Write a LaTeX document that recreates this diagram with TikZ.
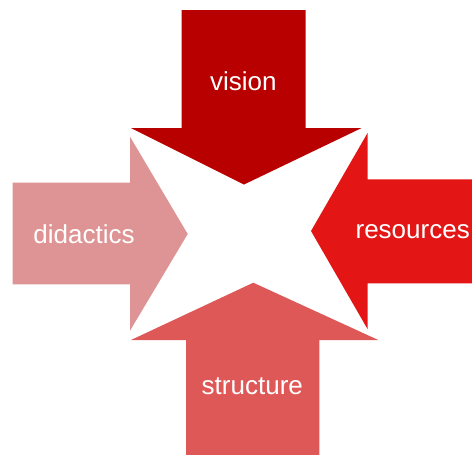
\documentclass[tikz,border=0pt]{standalone}
\usepackage{fontspec}
\setmainfont{Liberation Sans}
\definecolor{cvision}{HTML}{B80000}
\definecolor{cres}{HTML}{E31515}
\definecolor{cdid}{HTML}{DE9494}
\definecolor{cstr}{HTML}{DF5858}
\tikzset{
  lbl/.style={text=white, font=\fontsize{26}{30}\selectfont, inner sep=0pt, anchor=center}
}
\begin{document}
\begin{tikzpicture}[x=1pt,y=-1pt]
\useasboundingbox (0,0) rectangle (472,455);
% top arrow (vision)
\fill[cvision] (181.7,10) -- (305.7,10) -- (305.7,128) -- (361.7,128) -- (244,184.5) -- (131,128) -- (181.7,128) -- cycle;
% right arrow (resources)
\fill[cres] (472,179.3) -- (367.7,179.3) -- (367.7,132.7) -- (311,231) -- (367.7,329.3) -- (367.7,283.3) -- (472,283.3) -- cycle;
% left arrow (didactics)
\fill[cdid] (12.7,182.7) -- (130,182.7) -- (130,136.7) -- (187.7,234) -- (130,330.7) -- (130,284.3) -- (12.7,284.3) -- cycle;
% bottom arrow (structure)
\fill[cstr] (186,455) -- (186,340) -- (131,340) -- (253.3,282.7) -- (378.3,340) -- (319.3,340) -- (319.3,455) -- cycle;
% labels
\node[lbl] (vision) at (243.3,81.7) {vision};
\node[lbl] (resources) at (412.7,231.7) {resources};
\node[lbl] (didactics) at (84,234.3) {didactics};
\node[lbl] (structure) at (252.3,386.7) {structure};
\end{tikzpicture}
\end{document}
